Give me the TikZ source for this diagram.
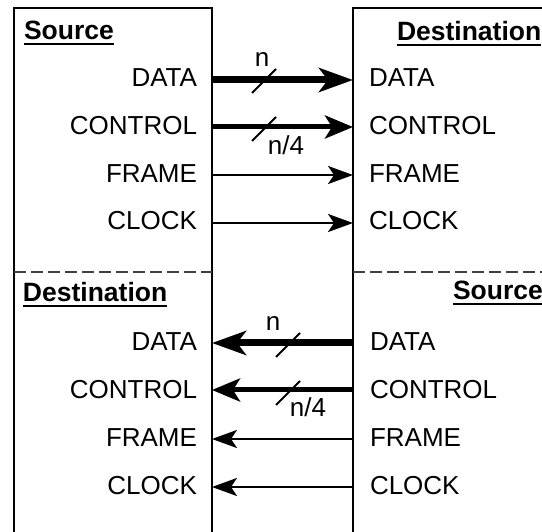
\documentclass[tikz,border=0pt]{standalone}
\usepackage{fontspec}
\setmainfont{Liberation Sans}
\usetikzlibrary{arrows.meta}
\begin{document}
\begin{tikzpicture}[x=1pt,y=-1pt,
  every node/.style={font=\fontsize{26}{30}\selectfont, inner sep=0pt, outer sep=0pt},
  lsig/.style={anchor=base east},
  rsig/.style={anchor=base west},
  hdr/.style={anchor=base west, font=\fontsize{26.5}{30}\selectfont\bfseries},
  uline/.style={line width=2pt},
  box/.style={line width=2.6pt},
  sep/.style={line width=2.8pt, draw=black!75, dash pattern=on 12pt off 5pt},
  bus/.style={line width=7pt, -{Stealth[length=34pt,width=24pt,inset=9pt]}},
  ctl/.style={line width=5pt, -{Stealth[length=28pt,width=23pt,inset=7pt]}},
  wire/.style={line width=2.2pt, -{Stealth[length=25pt,width=18pt,inset=6pt]}},
  tick/.style={line width=2pt},
  buslbl/.style={anchor=base}
]
\clip (0,0) rectangle (542,532);

% the two boxes (open at the bottom and on the right)
\draw[box] (14,545) -- (14,8) -- (212,8) -- (212,545);
\draw[box] (353,545) -- (353,8) -- (555,8);

% separators between the upper and lower halves
\draw[sep] (14,272) -- (212,272);
\draw[sep] (353,272) -- (555,272);

% headers
\node[hdr] (h1) at (24,40) {Source};
\node[hdr] (h2) at (397,41) {Destination};
\node[hdr] (h3) at (23,302) {Destination};
\node[hdr] (h4) at (453,300) {Source};
\foreach \h in {h1,h2,h3,h4}
  \draw[uline] ([yshift=-4pt]\h.base west) -- ([yshift=-4pt]\h.base east);

% signal names, upper half
\node[lsig] (ud) at (197,87) {DATA};
\node[lsig] (uc) at (197,135) {CONTROL};
\node[lsig] (uf) at (197,183) {FRAME};
\node[lsig] (uk) at (197,230) {CLOCK};
\node[rsig] (ud2) at (369,87) {DATA};
\node[rsig] (uc2) at (369,135) {CONTROL};
\node[rsig] (uf2) at (369,183) {FRAME};
\node[rsig] (uk2) at (369,230) {CLOCK};

% signal names, lower half
\node[lsig] (ld) at (197,351) {DATA};
\node[lsig] (lc) at (197,399) {CONTROL};
\node[lsig] (lf) at (197,447) {FRAME};
\node[lsig] (lk) at (197,495) {CLOCK};
\node[rsig] (ld2) at (370,351) {DATA};
\node[rsig] (lc2) at (370,399) {CONTROL};
\node[rsig] (lf2) at (370,447) {FRAME};
\node[rsig] (lk2) at (370,495) {CLOCK};

% port points on the box edges
\coordinate (pA1) at (212,80);  \coordinate (pB1) at (353,80);
\coordinate (pA2) at (212,127); \coordinate (pB2) at (353,127);
\coordinate (pA3) at (212,175); \coordinate (pB3) at (353,175);
\coordinate (pA4) at (212,223); \coordinate (pB4) at (353,223);
\coordinate (qA1) at (212,343); \coordinate (qB1) at (353,343);
\coordinate (qA2) at (212,390); \coordinate (qB2) at (353,390);
\coordinate (qA3) at (212,439); \coordinate (qB3) at (353,439);
\coordinate (qA4) at (212,487); \coordinate (qB4) at (353,487);

% upper half: left to right
\draw[bus]  (pA1) -- (pB1);
\draw[ctl]  (pA2) -- (pB2);
\draw[wire] (pA3) -- (pB3);
\draw[wire] (pA4) -- (pB4);

% lower half: right to left
\draw[bus]  (qB1) -- (qA1);
\draw[ctl]  (qB2) -- (qA2);
\draw[wire] (qB3) -- (qA3);
\draw[wire] (qB4) -- (qA4);

% bus width marks
\coordinate (t1) at (264,81);
\coordinate (t2) at (264,129);
\coordinate (t3) at (288,345);
\coordinate (t4) at (288,393);
\foreach \t in {t1,t2,t3,t4}
  \draw[tick] (\t) ++(-12,12) -- ++(24,-24);

\node[buslbl] (w1) at (262,67) {n};
\node[buslbl] (w2) at (286,155) {n/4};
\node[buslbl] (w3) at (273,331) {n};
\node[buslbl] (w4) at (308,417) {n/4};
\end{tikzpicture}
\end{document}
